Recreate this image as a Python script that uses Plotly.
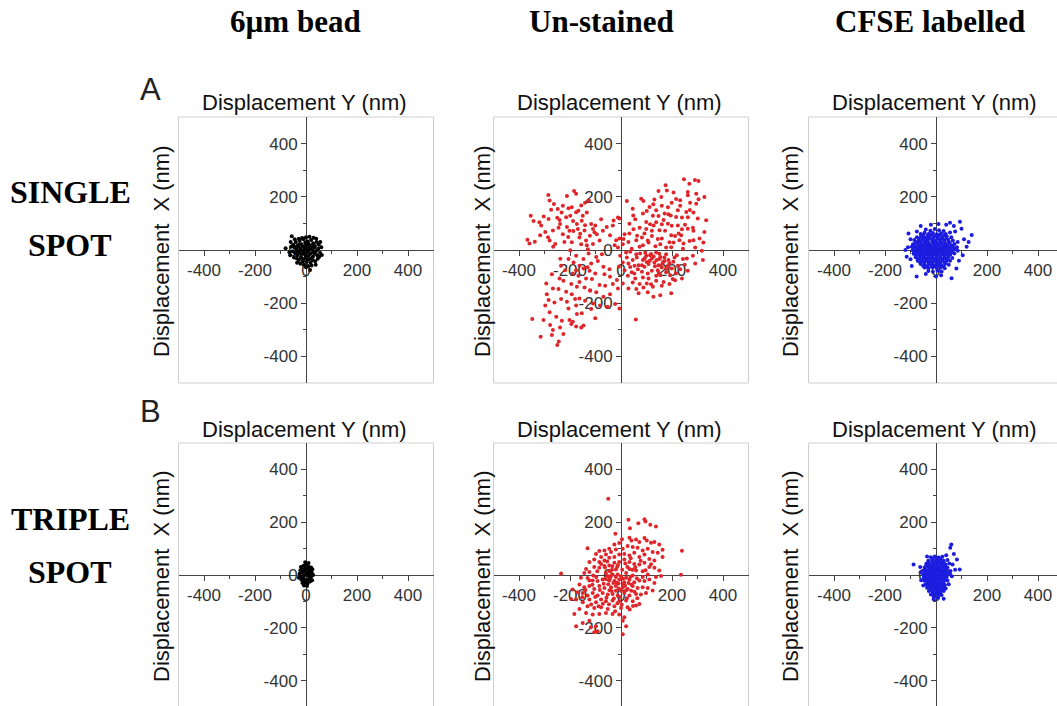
import plotly.graph_objects as go

# ---------------- data (nm): (Displacement Y, Displacement X) ----------------
col_titles = ["6\u00b5m bead", "Un-stained", "CFSE labelled"]
row_titles = [["SINGLE", "SPOT"], ["TRIPLE", "SPOT"]]
panel_letters = ["A", "B"]
tick_values = [-400, -200, 0, 200, 400]
tick_labels = ["-400", "-200", "0", "200", "400"]
minor_tick_values = [-300, -100, 100, 300]

bead_single = [
    (-40,30),(-32,18),(-25,35),(-18,22),(-10,40),(-3,28),(5,33),(12,20),(20,38),(28,25),(35,15),(42,30),
    (-45,10),(-38,2),(-30,12),(-22,5),(-14,14),(-6,3),(2,11),(9,-2),(17,8),(25,0),(33,9),(40,-4),(48,5),
    (-42,-12),(-34,-20),(-27,-8),(-19,-16),(-11,-6),(-4,-18),(4,-9),(11,-22),(19,-12),(27,-25),(34,-14),(44,-20),
    (-36,-32),(-28,-38),(-20,-28),(-12,-42),(-5,-33),(3,-45),(10,-35),(18,-48),(26,-38),(36,-42),
    (-15,45),(0,48),(14,50),(-28,42),(30,46),(-50,20),(-52,-5),(50,20),(55,-10),(-47,-28),(46,-33),
    (-8,-55),(8,-60),(22,-58),(-22,-52),(0,-65),(16,-75),(-56,52),(62,-19),(-80,7),(-65,-8),(38,-55),
    (-35,-48),(60,10),(-60,30),(-5,10),(5,-2),(-15,-2),(12,5),(0,20),(0,-25),(-25,22),(25,15),(-30,-5),
    (30,-8),(-18,-30),(20,-33),(8,28),(-8,-12),(-58,12),(-62,-20),(52,-25),(56,30),(-44,40),(40,42),
]

bead_triple = [
    (-20,30),(-10,35),(0,38),(10,32),(20,28),(-22,18),(-12,22),(-2,25),(8,20),(18,15),(25,22),
    (-25,5),(-15,10),(-5,12),(5,8),(15,5),(22,10),(-20,-5),(-10,-2),(0,0),(10,-4),(20,-8),(-18,-18),
    (-8,-14),(2,-20),(12,-15),(-14,-30),(-4,-28),(6,-32),(16,-25),(-8,-40),(4,-42),(10,45),(-3,48),
    (28,0),(-28,-10),(24,-20),(-16,-8),(14,18),(-6,-22),
]

unstained_single = [
    # upper left
    (-285,207),(-280,186),(-212,203),(-184,222),(-176,211),(-263,173),(-274,151),(-248,154),(-228,166),
    (-193,161),(-156,167),(-141,178),(-126,186),(-354,129),(-343,109),(-320,104),(-284,117),(-241,113),
    (-239,98),(-215,123),(-199,129),(-176,142),(-167,148),(-150,129),(-134,141),(-117,98),(-154,110),
    (-173,98),(-188,109),(-212,86),(-245,84),(-267,73),(-297,68),(-313,92),(-317,55),(-286,48),(-280,36),
    (-367,39),(-359,24),(-338,31),(-228,59),(-207,49),(-202,72),(-169,79),(-193,29),(-163,47),(-160,61),
    (-143,73),(-137,36),(-122,54),(-110,79),(-101,92),(-104,67),(-84,36),(-95,59),(-71,72),(-56,86),
    (-32,92),(-29,111),(-6,118),(-78,116),(-141,93),(-222,30),(-258,23),(-266,12),(-110,23),(-134,18),
    (-156,22),(-43,55),(-19,37),(-233,141),(-206,157),(-187,71),(-250,121),(-303,126),
    # upper right
    (247,266),(268,249),(290,263),(304,259),(175,243),(180,224),(147,222),(158,199),(206,216),(216,192),
    (232,187),(262,218),(262,206),(295,211),(304,191),(327,199),(23,184),(46,155),(79,193),(88,184),
    (112,162),(127,172),(138,149),(160,166),(184,161),(199,178),(223,149),(232,166),(256,143),(271,178),
    (295,174),(86,137),(101,147),(125,129),(147,128),(171,137),(186,134),(216,124),(239,122),(262,123),
    (284,141),(301,118),(334,112),(-12,122),(33,99),(56,116),(99,105),(114,97),(138,104),(160,97),
    (184,99),(199,91),(223,92),(239,78),(262,80),(284,72),(236,55),(212,53),(197,55),(173,72),(151,74),
    (121,72),(99,79),(73,84),(49,78),(33,62),(14,59),(-6,43),(10,41),(29,30),(60,37),(82,47),(105,36),
    (121,53),(144,41),(160,43),(190,29),(206,28),(229,37),(245,24),(269,34),(284,37),(308,43),(323,28),
    (86,18),(108,28),(135,14),(154,22),(177,9),(-25,18),(-12,9),(7,22),(42,5),(73,12),(243,5),(291,9),
    (317,-3),(282,84),(327,68),(197,10),(226,62),(251,95),(167,113),(128,92),(92,62),(63,54),(48,130),
    (131,190),(195,130),(270,150),
    # lower right
    (20,-9),(36,-7),(60,-16),(75,-13),(99,-22),(114,-20),(138,-9),(154,-26),(177,-16),(121,-32),(151,-34),
    (101,-45),(86,-38),(62,-28),(46,-38),(29,-51),(53,-59),(69,-57),(92,-63),(108,-53),(131,-47),(147,-57),
    (171,-41),(186,-38),(210,-28),(219,-20),(243,-34),(258,-32),(282,-22),(291,-51),(321,-38),(223,-59),
    (199,-70),(184,-59),(160,-66),(144,-76),(121,-78),(105,-88),(82,-82),(66,-72),(42,-84),(27,-97),
    (56,-107),(86,-103),(108,-107),(138,-97),(154,-95),(177,-84),(193,-95),(216,-88),(232,-72),(262,-78),
    (239,-107),(203,-109),(167,-120),(138,-116),(101,-126),(73,-128),(46,-122),(29,-145),(60,-147),
    (88,-141),(125,-138),(160,-134),(190,-128),(7,-126),(69,-163),(105,-159),(154,-170),(197,-163),
    (127,-176),(58,-261),(-8,-63),(14,-76),(23,-28),(-3,-22),(7,-47),(128,-24),(165,-45),(140,-38),
    (113,-40),(190,-50),(170,-28),(95,-10),(150,-14),(118,-15),(133,-61),(162,-52),(178,-71),(205,-44),
    (93,-31),(82,-57),(148,-86),(212,-114),(36,-64),(52,-88),(118,-129),(250,-55),
    # lower left
    (-127,-13),(-97,-26),(-75,-16),(-147,-34),(-117,-51),(-91,-41),(-69,-63),(-45,-72),(-43,-101),
    (-65,-91),(-101,-88),(-123,-78),(-147,-70),(-163,-59),(-186,-47),(-206,-34),(-176,-22),(-219,-76),
    (-189,-88),(-167,-97),(-137,-107),(-114,-109),(-84,-132),(-62,-134),(-32,-128),(-16,-113),(-12,-145),
    (-43,-166),(-69,-176),(-97,-159),(-121,-151),(-143,-141),(-173,-138),(-195,-128),(-226,-116),
    (-241,-107),(-271,-91),(-293,-126),(-267,-145),(-245,-147),(-215,-157),(-193,-166),(-163,-182),
    (-141,-191),(-110,-201),(-82,-209),(-52,-213),(-23,-203),(-6,-220),(-291,-166),(-284,-188),
    (-261,-197),(-235,-184),(-212,-195),(-176,-209),(-154,-238),(-117,-222),(-101,-257),(-173,-241),
    (-202,-263),(-232,-266),(-254,-251),(-280,-234),(-297,-209),(-304,-263),(-348,-259),(-278,-282),
    (-267,-301),(-239,-291),(-189,-270),(-195,-278),(-176,-288),(-156,-291),(-147,-284),(-226,-316),
    (-271,-320),(-315,-326),(-250,-357),(-244,-344),(-130,3),(-199,-1),(-176,-76),(-235,-59),(-121,-153),
    (-180,-184),(-238,-33),(-163,-120),(-206,-220),(-131,-65),
]

unstained_triple = [
    (-50,289),(29,209),(68,196),(92,211),(96,203),(115,190),(137,184),(35,177),(-22,156),
    (4,135),(33,141),(41,131),(59,134),(72,125),(92,140),(101,131),(118,122),(131,125),(150,116),
    (-7,121),(-26,116),(-46,99),(-65,93),(-85,91),(-98,80),(-78,68),(-59,78),(-39,87),(-20,97),(7,99),
    (26,110),(46,106),(65,103),(85,93),(105,99),(124,87),(144,84),(163,68),(163,96),(-131,101),(239,92),
    (-124,49),(-105,59),(-85,49),(-65,55),(-46,65),(-26,68),(-7,78),(13,80),(33,74),(52,84),(72,68),
    (92,78),(111,61),(131,55),(-105,30),(-85,27),(-65,34),(-46,36),(-26,46),(-7,49),(13,59),(33,49),
    (52,42),(72,40),(92,46),(111,30),(131,27),(150,17),(-137,23),(-144,8),(-124,11),(-46,15),(-20,21),
    (33,23),(59,17),(85,14),(-235,6),(-52,-4),(-33,2),(20,8),(46,-2),(105,2),(137,-8),(157,-4),(235,1),
    (-131,-11),(-111,-21),(-92,-23),(-72,-17),(-46,-21),(-26,-23),(-7,-17),(13,-27),(33,-17),(52,-27),
    (72,-21),(92,-23),(111,-17),(131,-30),(-163,-36),(-144,-46),(-124,-42),(-105,-53),(-85,-42),
    (-65,-49),(-39,-46),(-20,-42),(7,-46),(26,-53),(46,-42),(65,-49),(85,-46),(105,-49),(124,-59),
    (-190,-55),(-170,-65),(-150,-68),(-131,-78),(-111,-68),(-92,-78),(-72,-68),(-52,-74),(-33,-72),
    (-13,-78),(13,-68),(33,-78),(59,-72),(78,-74),(98,-68),(-196,-91),(-176,-93),(-150,-103),(-124,-93),
    (-98,-103),(-78,-93),(-59,-99),(-33,-97),(-7,-99),(20,-97),(46,-99),(72,-110),(-131,-118),(-105,-125),
    (-78,-122),(-52,-129),(-26,-118),(0,-125),(26,-122),(59,-116),(-163,-129),(-137,-144),(-111,-150),
    (-85,-148),(-59,-144),(-33,-148),(-7,-150),(13,-160),(-183,-148),(-176,-194),(-150,-182),(-124,-173),
    (-98,-194),(-92,-213),(-105,-217),(-118,-198),(7,-173),(20,-194),(7,-224),(-124,-21),(-13,2),(-59,8),
    (85,-8),(-40,-5),(-20,-8),(0,-5),(20,-10),(-30,-30),(-10,-32),(10,-35),(30,-30),(-50,-35),(-60,-15),
    (0,-60),(-20,-60),(-45,-58),(20,-58),(5,20),(-15,30),(-35,20),(25,30),(45,20),(40,-60),
    (-112,-37),(-97,-8),(-83,-57),(-68,-33),(-57,-86),(-44,-12),(-37,-61),(-28,-89),(-17,-29),(-9,-51),
    (-3,-83),(8,-14),(16,-41),(23,-88),(37,-7),(41,-37),(53,-63),(62,-12),(-101,-83),(-88,-118),
    (-71,-109),(-47,-111),(-23,-137),(-14,-107),(3,-113),(34,-131),(-139,-57),(-152,-84),(-117,-112),
    (-63,28),(-78,42),(-54,51),(-34,33),(-12,38),(17,44),(38,63),(56,29),(77,54),(96,18),(118,41),
    (-93,14),(-109,-2),(-157,-10),(64,-88),(47,-117),
]

cfse_single = [
    (-40,77),(-22,72),(-5,79),(12,74),(30,71),
    (-60,60),(-45,65),(-28,61),(-12,64),(4,59),(20,63),(38,60),(55,66),
    (-75,48),(-58,52),(-40,47),(-25,53),(-8,49),(8,51),(24,46),(42,52),(60,48),
    (-85,38),(-68,35),(-52,39),(-35,36),(-18,40),(-2,34),(15,38),(32,35),(48,39),(66,36),
    (-90,22),(-74,26),(-58,23),(-42,25),(-26,21),(-10,26),(6,23),(22,25),(38,22),(54,26),(72,23),
    (-95,12),(-79,9),(-63,13),(-47,10),(-31,12),(-15,9),(1,13),(17,10),(33,12),(49,9),(65,13),(82,10),
    (-92,-1),(-76,-4),(-60,0),(-44,-3),(-28,-1),(-12,-4),(4,0),(20,-3),(36,-1),(52,-4),(68,0),(85,-3),
    (-88,-14),(-72,-17),(-56,-13),(-40,-16),(-24,-14),(-8,-17),(8,-13),(24,-16),(40,-14),(56,-17),(72,-13),
    (-80,-27),(-64,-30),(-48,-26),(-32,-29),(-16,-27),(0,-30),(16,-26),(32,-29),(48,-27),(64,-30),
    (-72,-40),(-56,-43),(-40,-39),(-24,-42),(-8,-40),(8,-43),(24,-39),(40,-42),(55,-40),
    (-60,-53),(-44,-56),(-28,-52),(-12,-55),(4,-53),(20,-56),(36,-52),(50,-55),
    (-45,-66),(-30,-69),(-14,-65),(2,-68),(18,-66),(34,-69),(-30,-79),(-12,-82),(6,-78),(22,-81),
    (-50,56),(-32,56),(-16,57),(0,55),(16,56),(32,55),(-66,43),(-48,43),(-30,44),(-12,42),(6,44),(24,43),
    (40,44),(-80,30),(-62,30),(-46,31),(-30,29),(-14,31),(2,30),(18,29),(34,31),(50,30),(-84,18),(-68,17),
    (-52,18),(-36,16),(-20,18),(-4,17),(12,19),(28,16),(44,18),(60,17),(-86,5),(-70,4),(-54,6),(-38,4),
    (-22,6),(-6,5),(10,4),(26,6),(42,5),(58,4),(74,6),(-84,-8),(-68,-9),(-52,-7),(-36,-9),(-20,-8),(-4,-9),
    (12,-7),(28,-9),(44,-8),(60,-9),(-78,-21),(-62,-22),(-46,-20),(-30,-22),(-14,-21),(2,-22),(18,-20),
    (34,-22),(50,-21),(-70,-34),(-54,-35),(-38,-33),(-22,-35),(-6,-34),(10,-35),(26,-33),(42,-35),
    (-62,-47),(-46,-48),(-30,-46),(-14,-48),(2,-47),(18,-48),(34,-46),(-50,-60),(-34,-61),(-18,-59),
    (-2,-61),(14,-60),(30,-61),
    (94,106),(140,56),(-76,-100),(61,-106),(-108,62),(-115,-25),(120,12),(100,80),(110,40),(-100,40),
    (-110,10),(90,-40),(80,-70),(-95,-60),(-60,90),(40,95),(10,98),(-20,95),(75,70),(128,30),(-120,0),
    (20,-95),(-40,-90),(105,-20),(0,-100),(70,90),(55,102),(85,30),(-100,-35),(-75,70),
]

cfse_triple = [
    (-20,67),(-5,70),(10,66),(25,69),(-30,54),(-15,57),(0,53),(15,56),(30,54),(45,57),
    (-38,43),(-23,40),(-8,44),(7,41),(22,43),(37,40),(52,44),(-45,28),(-30,31),(-15,27),(0,30),(15,28),
    (30,31),(45,27),(-48,17),(-33,14),(-18,18),(-3,15),(12,17),(27,14),(42,18),(57,15),
    (-50,2),(-35,5),(-20,1),(-5,4),(10,2),(25,5),(40,1),(55,4),(-48,-9),(-33,-12),(-18,-8),(-3,-11),
    (12,-9),(27,-12),(42,-8),(-45,-22),(-30,-25),(-15,-21),(0,-24),(15,-22),(30,-25),(45,-21),
    (-40,-35),(-25,-38),(-10,-34),(5,-37),(20,-35),(35,-38),(-35,-48),(-20,-51),(-5,-47),(10,-50),
    (25,-48),(38,-51),(-28,-61),(-13,-64),(2,-60),(17,-63),(30,-61),(-20,-74),(-5,-77),(10,-73),(22,-76),
    (-12,62),(3,61),(18,62),(-30,48),(-15,49),(0,48),(15,49),(30,47),(-38,36),(-23,35),(-8,36),(7,35),
    (22,36),(37,35),(-40,22),(-25,23),(-10,22),(5,23),(20,22),(35,23),(-42,9),(-27,10),(-12,9),(3,10),
    (18,9),(33,10),(48,9),(-40,-4),(-25,-3),(-10,-4),(5,-3),(20,-4),(35,-3),(-38,-16),(-23,-17),(-8,-16),
    (7,-17),(22,-16),(37,-17),(-32,-30),(-17,-29),(-2,-30),(13,-29),(28,-30),(-28,-43),(-13,-42),(2,-43),
    (17,-42),(30,-43),(-20,-56),(-5,-55),(10,-56),(24,-55),(-12,-68),(3,-69),(15,-68),(-8,-84),(8,-86),
    (60,116),(56,103),(82,59),(-88,40),(93,21),(50,-35),(-9,-92),(70,80),(-60,10),(65,40),(-50,-40),
    (30,-90),(75,20),(-58,-20),(62,-5),(-62,30),(40,75),(-35,70),
]

panels = [[bead_single, unstained_single, cfse_single],
          [bead_triple, unstained_triple, cfse_triple]]
colors = ["#000000", "#e0262b", "#1c1ce0"]

# ---------------- layout geometry (pixels) ----------------
W, H = 1057, 706
col_zero_px = [306, 621, 936]
row_zero_px = [250, 575]
half_w = 127.5
half_h = [133, 132]
ytitle_x_px = [161, 482, 790]
xtitle_y_px = [103, 429]

fig = go.Figure()
layout = dict(width=W, height=H, margin=dict(l=0, r=0, t=0, b=0),
              paper_bgcolor="white", plot_bgcolor="white", showlegend=False)
shapes, annotations = [], []

def ann(text, px, py, size, family="Liberation Sans", angle=0, color="#111"):
    annotations.append(dict(text=text, x=px / W, y=1 - py / H, xref="paper", yref="paper",
                            xanchor="center", yanchor="middle", showarrow=False, textangle=angle,
                            font=dict(family=family, size=size, color=color)))

n = 0
for r in range(2):
    for c in range(3):
        n += 1
        sfx = "" if n == 1 else str(n)
        zx, zy = col_zero_px[c], row_zero_px[r]
        left, right = zx - half_w, min(zx + half_w, W)
        top, bottom = zy - half_h[r], min(zy + half_h[r], H)
        xr = [-500, 500 * (right - zx) / half_w]
        yr = [-500 * (bottom - zy) / half_h[r], 500]
        axis_common = dict(showgrid=False, zeroline=False, showline=True, linecolor="#444",
                           linewidth=1, ticks="outside", ticklen=5, tickcolor="#444",
                           tickvals=tick_values, ticktext=tick_labels, layer="below traces",
                           tickfont=dict(family="Liberation Sans", size=17, color="#333"),
                           minor=dict(tickvals=minor_tick_values, ticks="outside", ticklen=3,
                                      tickcolor="#444"),
                           anchor="free", fixedrange=True)
        layout["xaxis" + sfx] = dict(axis_common, domain=[left / W, right / W], range=xr,
                                     position=1 - zy / H)
        layout["yaxis" + sfx] = dict(axis_common, domain=[1 - bottom / H, 1 - top / H], range=yr,
                                     position=zx / W)
        pts = panels[r][c]
        fig.add_trace(go.Scatter(x=[p[0] for p in pts], y=[p[1] for p in pts], mode="markers",
                                 marker=dict(size=4, color=colors[c], line=dict(width=0)),
                                 xaxis="x" + sfx, yaxis="y" + sfx, hoverinfo="skip"))
        shapes.append(dict(type="rect", xref=f"x{sfx} domain", yref=f"y{sfx} domain",
                           x0=0, x1=1.05 if c == 2 else 1, y0=-0.05 if r == 1 else 0, y1=1,
                           line=dict(color="#cfcfcf", width=1), layer="below"))
        ann("Displacement Y (nm)", zx - 2, xtitle_y_px[r], 22)
        ann("Displacement\u00a0 X (nm)", ytitle_x_px[c], zy + 1, 22, angle=-90)

col_heading_px = [295, 601, 930]
for c in range(3):
    ann("<b>" + col_titles[c] + "</b>", col_heading_px[c], 22, 31, family="Liberation Serif", color="#000")
row_label_py = [[192, 245], [519, 572]]
for r in range(2):
    for k in range(2):
        ann("<b>" + row_titles[r][k] + "</b>", 70, row_label_py[r][k], 32,
            family="Liberation Serif", color="#000")
ann(panel_letters[0], 150, 89, 31, color="#222")
ann(panel_letters[1], 150, 411, 31, color="#222")

layout["shapes"] = shapes
layout["annotations"] = annotations
fig.update_layout(**layout)
fig.write_html("out.html")
